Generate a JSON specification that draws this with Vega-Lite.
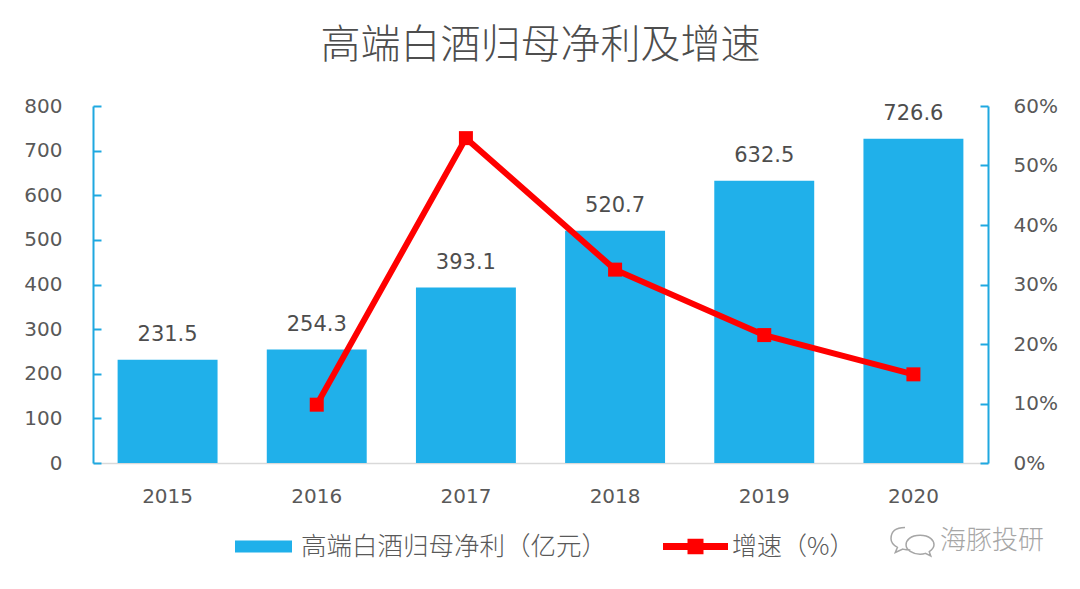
{
  "$schema": "https://vega.github.io/schema/vega-lite/v6.json",
  "autosize": {"type": "none"},
  "width": 895,
  "height": 357,
  "padding": {"left": 93, "top": 106, "right": 92, "bottom": 126},
  "background": "#FFFFFF",
  "config": {
    "view": {"stroke": null},
    "font": "DejaVu Sans",
    "axis": {"grid": false, "labelFont": "DejaVu Sans", "title": null}
  },
  "title": {
    "text": "高端白酒归母净利及增速",
    "font": "Noto Sans CJK SC",
    "fontSize": 40,
    "fontWeight": 300,
    "color": "#4D4D4D",
    "anchor": "middle",
    "offset": 30
  },
  "data": {
    "values": [
      {"year": "2015", "profit": 231.5, "growth": null, "bar": "高端白酒归母净利（亿元）", "line": "增速（%）", "brand": "海豚投研"},
      {"year": "2016", "profit": 254.3, "growth": 0.098, "bar": "高端白酒归母净利（亿元）", "line": "增速（%）", "brand": "海豚投研"},
      {"year": "2017", "profit": 393.1, "growth": 0.546, "bar": "高端白酒归母净利（亿元）", "line": "增速（%）", "brand": "海豚投研"},
      {"year": "2018", "profit": 520.7, "growth": 0.325, "bar": "高端白酒归母净利（亿元）", "line": "增速（%）", "brand": "海豚投研"},
      {"year": "2019", "profit": 632.5, "growth": 0.215, "bar": "高端白酒归母净利（亿元）", "line": "增速（%）", "brand": "海豚投研"},
      {"year": "2020", "profit": 726.6, "growth": 0.149, "bar": "高端白酒归母净利（亿元）", "line": "增速（%）", "brand": "海豚投研"}
    ]
  },
  "encoding": {
    "x": {
      "field": "year",
      "type": "ordinal",
      "scale": {"paddingInner": 0.33, "paddingOuter": 0.165},
      "axis": {
        "labelAngle": 0,
        "ticks": false,
        "domainColor": "#D9D9D9",
        "domainWidth": 1.5,
        "labelFontSize": 20,
        "labelColor": "#595959",
        "labelPadding": 23
      }
    }
  },
  "layer": [
    {
      "encoding": {
        "y": {
          "field": "profit",
          "type": "quantitative",
          "scale": {"domain": [0, 800]},
          "axis": {
            "orient": "left",
            "values": [0, 100, 200, 300, 400, 500, 600, 700, 800],
            "domainColor": "#1FA8E0",
            "domainWidth": 2,
            "tickColor": "#1FA8E0",
            "tickWidth": 2,
            "tickSize": -8,
            "labelFontSize": 20,
            "labelColor": "#595959",
            "labelPadding": 39
          }
        }
      },
      "layer": [
        {
          "mark": {"type": "bar"},
          "encoding": {
            "fill": {
              "field": "bar",
              "type": "nominal",
              "scale": {"range": ["#20B0EA"]},
              "legend": {
                "orient": "none",
                "legendX": 142,
                "legendY": 412,
                "title": null,
                "symbolType": "M-1,-0.21L1,-0.21L1,0.21L-1,0.21Z",
                "symbolSize": 3249,
                "symbolStrokeWidth": 0,
                "labelFont": "Noto Sans CJK SC",
                "labelFontSize": 25.5,
                "labelFontWeight": 300,
                "labelColor": "#595959",
                "labelOffset": 9,
                "labelLimit": 0
              }
            }
          }
        },
        {
          "mark": {"type": "text", "dy": -25, "fontSize": 21, "color": "#4D4D4D", "font": "DejaVu Sans"},
          "encoding": {
            "text": {"field": "profit", "type": "quantitative", "format": ".1f"}
          }
        }
      ]
    },
    {
      "transform": [{"filter": "datum.growth != null"}],
      "encoding": {
        "y": {
          "field": "growth",
          "type": "quantitative",
          "scale": {"domain": [0, 0.6]},
          "axis": {
            "orient": "right",
            "values": [0, 0.1, 0.2, 0.3, 0.4, 0.5, 0.6],
            "format": ".0%",
            "domainColor": "#1FA8E0",
            "domainWidth": 2,
            "tickColor": "#1FA8E0",
            "tickWidth": 2,
            "tickSize": -8,
            "labelFontSize": 20,
            "labelColor": "#595959",
            "labelPadding": 33
          }
        }
      },
      "layer": [
        {
          "mark": {"type": "line", "strokeWidth": 6},
          "encoding": {
            "stroke": {
              "field": "line",
              "type": "nominal",
              "scale": {"range": ["#FF0000"]},
              "legend": {
                "orient": "none",
                "legendX": 570,
                "legendY": 408,
                "title": null,
                "symbolType": "M-1,-0.108L1,-0.108L1,0.108L-1,0.108Z M-0.246,-0.24L0.246,-0.24L0.246,0.24L-0.246,0.24Z",
                "symbolSize": 4225,
                "symbolFillColor": "#FF0000",
                "symbolStrokeWidth": 0,
                "labelFont": "Noto Sans CJK SC",
                "labelFontSize": 25,
                "labelFontWeight": 300,
                "labelColor": "#595959",
                "labelOffset": 4,
                "labelLimit": 0
              }
            }
          }
        },
        {
          "mark": {"type": "point", "shape": "square", "filled": true, "size": 196, "color": "#FF0000", "opacity": 1}
        },
        {
          "transform": [{"filter": "datum.growth < 0"}],
          "mark": {"type": "point", "filled": false, "size": 1849, "color": "#A6A6A6", "strokeWidth": 1.5, "opacity": 1},
          "encoding": {
            "shape": {
              "field": "brand",
              "type": "nominal",
              "scale": {
                "domain": ["海豚投研"],
                "range": ["M-0.35,-0.6C-0.95,-0.6 -1,-0.25 -1,-0.08C-1,0.12 -0.85,0.24 -0.7,0.32L-0.8,0.56L-0.45,0.4C-0.3,0.44 -0.2,0.44 -0.1,0.44 M0.35,-0.24C-0.1,-0.24 -0.3,0 -0.3,0.2C-0.3,0.44 0,0.64 0.35,0.64C0.45,0.64 0.55,0.62 0.6,0.6L0.85,0.72L0.78,0.52C0.95,0.4 1,0.32 1,0.2C1,0 0.8,-0.24 0.35,-0.24Z"]
              },
              "legend": {
                "orient": "none",
                "legendX": 797,
                "legendY": 412,
                "title": null,
                "symbolSize": 1849,
                "labelFont": "Noto Sans CJK SC",
                "labelFontSize": 26,
                "labelFontWeight": 300,
                "labelColor": "#A6A6A6",
                "labelOffset": 5,
                "labelLimit": 0
              }
            }
          }
        }
      ]
    }
  ],
  "resolve": {"scale": {"y": "independent"}}
}
